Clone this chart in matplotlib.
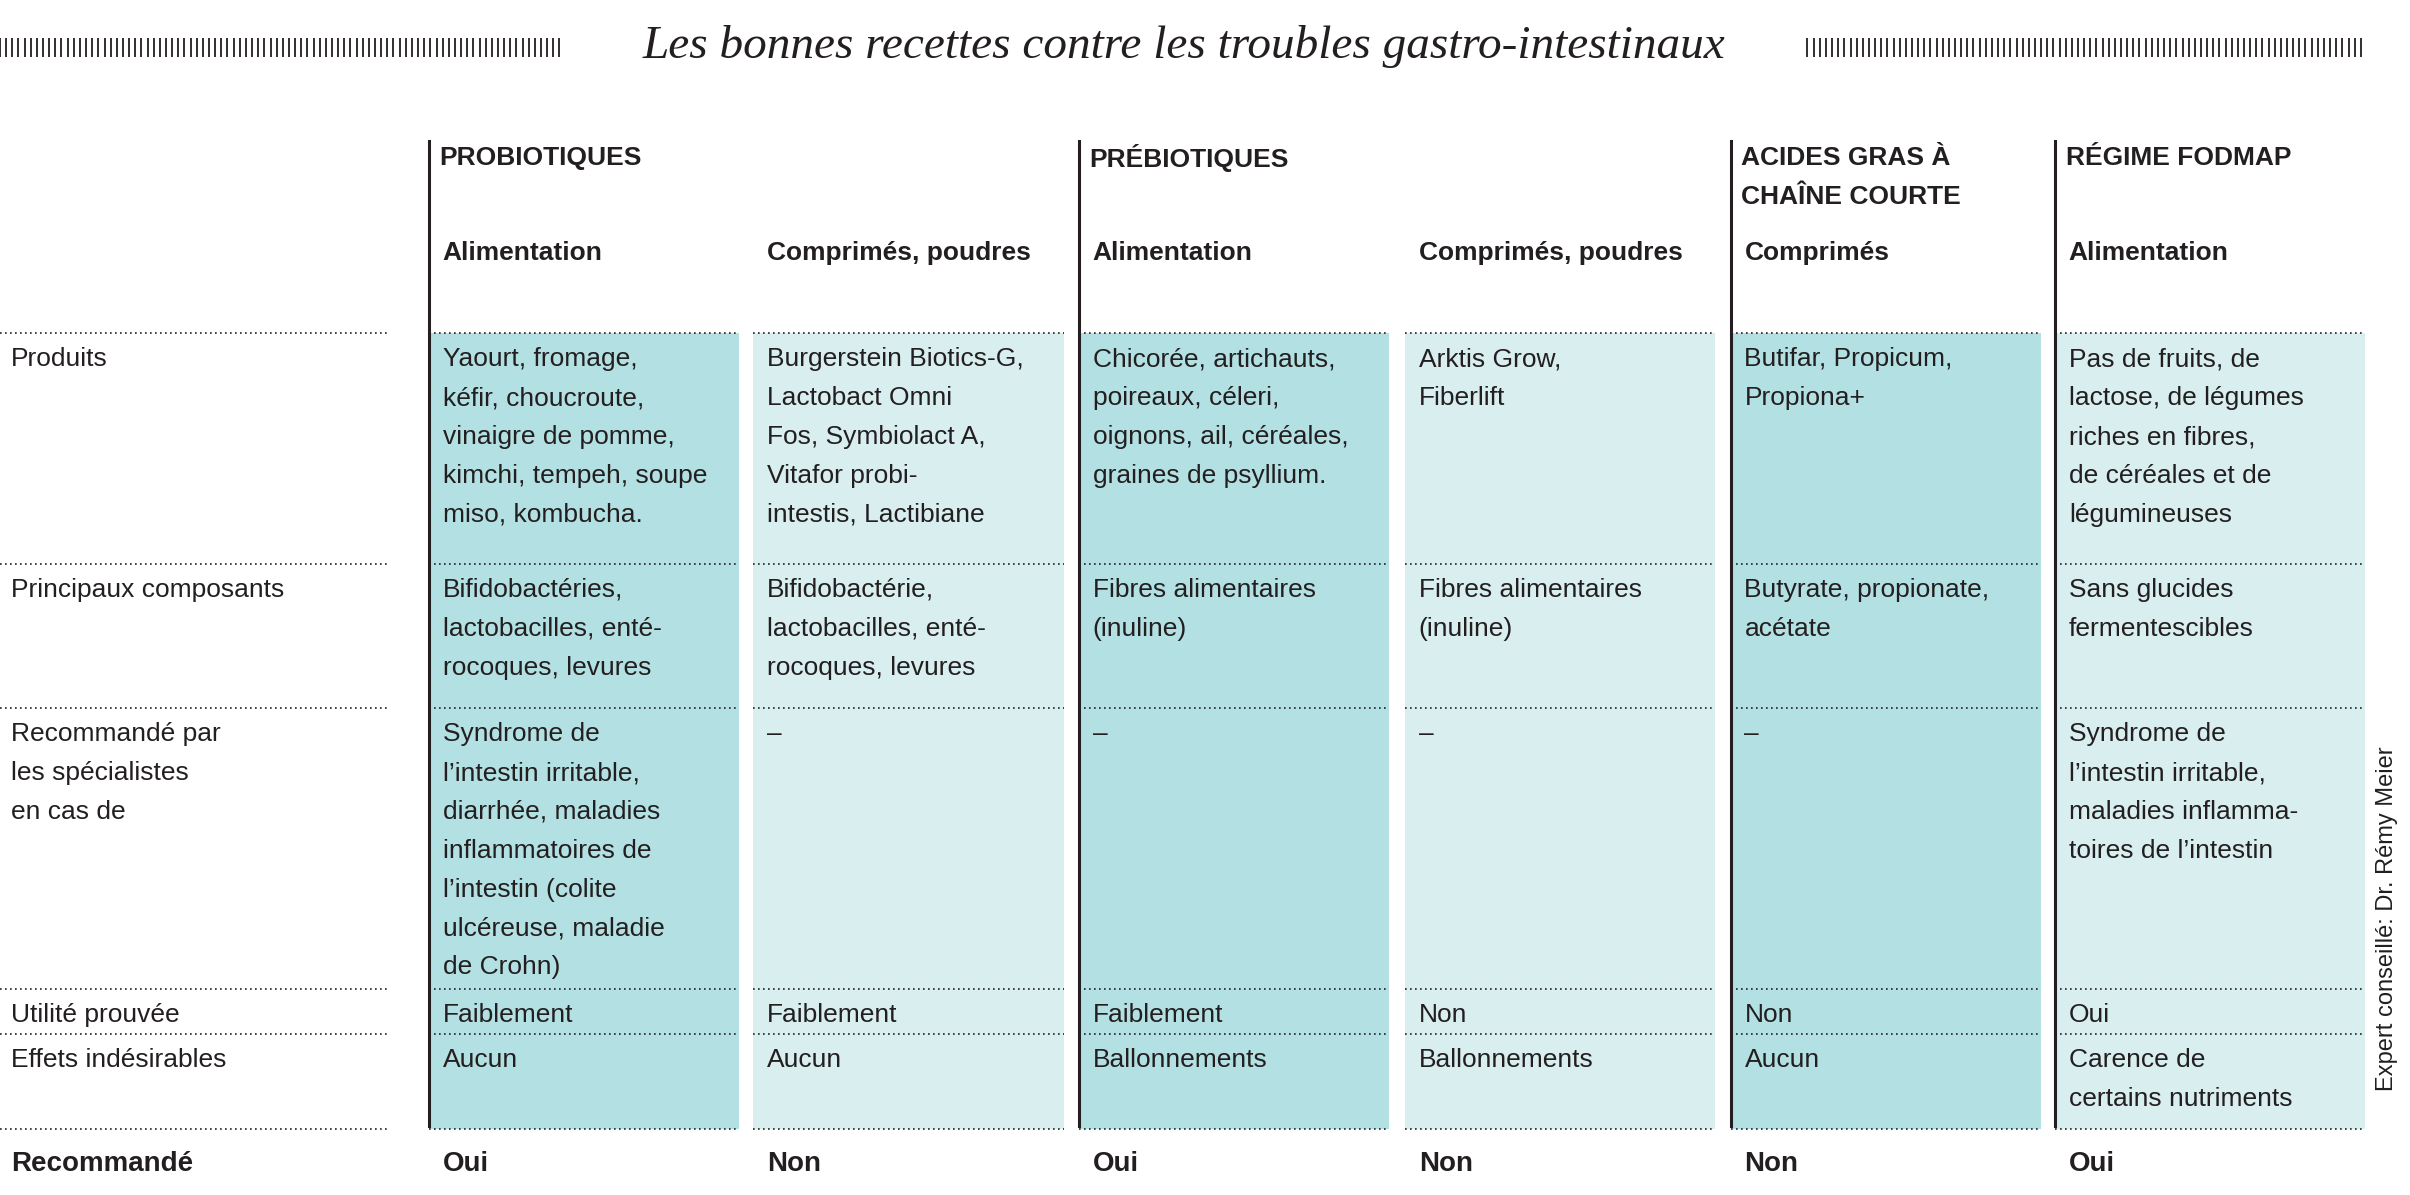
import matplotlib
matplotlib.use("Agg")
import matplotlib.pyplot as plt
import numpy as np

title = "Les bonnes recettes contre les troubles gastro-intestinaux"
groups = ["PROBIOTIQUES", "PRÉBIOTIQUES", "ACIDES GRAS À\nCHAÎNE COURTE", "RÉGIME FODMAP"]
group_cols = [0, 2, 4, 5]
subheads = ["Alimentation", "Comprimés, poudres", "Alimentation", "Comprimés, poudres", "Comprimés", "Alimentation"]
row_labels = [["Produits"], ["Principaux composants"],
              ["Recommandé par", "les spécialistes", "en cas de"],
              ["Utilité prouvée"], ["Effets indésirables"]]
cells = [
    [["Yaourt, fromage,", "kéfir, choucroute,", "vinaigre de pomme,", "kimchi, tempeh, soupe", "miso, kombucha."],
     ["Burgerstein Biotics-G,", "Lactobact Omni", "Fos, Symbiolact A,", "Vitafor probi-", "intestis, Lactibiane"],
     ["Chicorée, artichauts,", "poireaux, céleri,", "oignons, ail, céréales,", "graines de psyllium."],
     ["Arktis Grow,", "Fiberlift"],
     ["Butifar, Propicum,", "Propiona+"],
     ["Pas de fruits, de", "lactose, de légumes", "riches en fibres,", "de céréales et de", "légumineuses"]],
    [["Bifidobactéries,", "lactobacilles, enté-", "rocoques, levures"],
     ["Bifidobactérie,", "lactobacilles, enté-", "rocoques, levures"],
     ["Fibres alimentaires", "(inuline)"],
     ["Fibres alimentaires", "(inuline)"],
     ["Butyrate, propionate,", "acétate"],
     ["Sans glucides", "fermentescibles"]],
    [["Syndrome de", "l’intestin irritable,", "diarrhée, maladies", "inflammatoires de", "l’intestin (colite", "ulcéreuse, maladie", "de Crohn)"],
     ["–"], ["–"], ["–"], ["–"],
     ["Syndrome de", "l’intestin irritable,", "maladies inflamma-", "toires de l’intestin"]],
    [["Faiblement"], ["Faiblement"], ["Faiblement"], ["Non"], ["Non"], ["Oui"]],
    [["Aucun"], ["Aucun"], ["Ballonnements"], ["Ballonnements"], ["Aucun"], ["Carence de", "certains nutriments"]],
]
recommended = ["Oui", "Non", "Oui", "Non", "Non", "Oui"]
note = "Expert conseillé: Dr. Rémy Meier"

# layout (display units, image 1568 x 778)
col_x = [279, 490, 702, 914, 1126, 1337]
col_w = 202
row_y = [217, 367, 461, 644, 673, 735]
dark, light = "#b3e0e2", "#d8eeef"
ink = "#231f20"
FONT = ["Liberation Sans Narrow", "Liberation Sans", "DejaVu Sans"]
fs = 19
lh = 25.3

fig = plt.figure(figsize=(24.10, 11.95), dpi=100)
ax = fig.add_axes([0, 0, 1, 1])
ax.set_xlim(0, 1568)
ax.set_ylim(778, 0)
ax.axis("off")

# title and hatch decoration
ax.text(770, 30, title, ha="center", va="center", family="Liberation Serif",
        style="italic", fontsize=34, color=ink)
for x0, x1 in [(0, 365), (1176, 1538)]:
    xs = np.arange(x0, x1, 4.0)
    ax.vlines(xs, 25, 37, color=ink, lw=1.3)

# shaded cells
for i, x in enumerate(col_x):
    ax.add_patch(plt.Rectangle((x, row_y[0]), col_w, row_y[-1] - row_y[0],
                               color=dark if i % 2 == 0 else light, lw=0, zorder=0))

# dotted lines
for y in row_y:
    ax.plot([0, 252], [y, y], ls=(0, (1, 2)), color=ink, lw=1.2)
    for x in col_x:
        ax.plot([x, x + col_w], [y, y], ls=(0, (1, 2)), color=ink, lw=1.2)

# vertical rules
for gc in group_cols:
    ax.plot([col_x[gc], col_x[gc]], [92, 733], color=ink, lw=2.2)

# headers
for g, gc in zip(groups, group_cols):
    for k, line in enumerate(g.split("\n")):
        ax.text(col_x[gc] + 7, 103 + k * lh, line, ha="left", va="center",
                family=FONT, fontsize=fs, weight="bold", color=ink)
for i, s in enumerate(subheads):
    ax.text(col_x[i] + 9, 165, s, ha="left", va="center", family=FONT,
            fontsize=fs, weight="bold", color=ink)

# body
for r, lab in enumerate(row_labels):
    y0 = row_y[r] + 17
    for k, line in enumerate(lab):
        ax.text(7, y0 + k * lh, line, ha="left", va="center", family=FONT, fontsize=fs, color=ink)
    for c in range(6):
        for k, line in enumerate(cells[r][c]):
            ax.text(col_x[c] + 9, y0 + k * lh, line, ha="left", va="center",
                    family=FONT, fontsize=fs, color=ink)

ax.text(7, 758, "Recommandé", ha="left", va="center", family=FONT, fontsize=20,
        weight="bold", color=ink)
for c, v in enumerate(recommended):
    ax.text(col_x[c] + 9, 758, v, ha="left", va="center", family=FONT, fontsize=20,
            weight="bold", color=ink)

ax.text(1553, 598, note, rotation=90, ha="center", va="center", family=FONT,
        fontsize=17, color=ink)

fig.savefig("out.png", dpi=100, facecolor="white")
